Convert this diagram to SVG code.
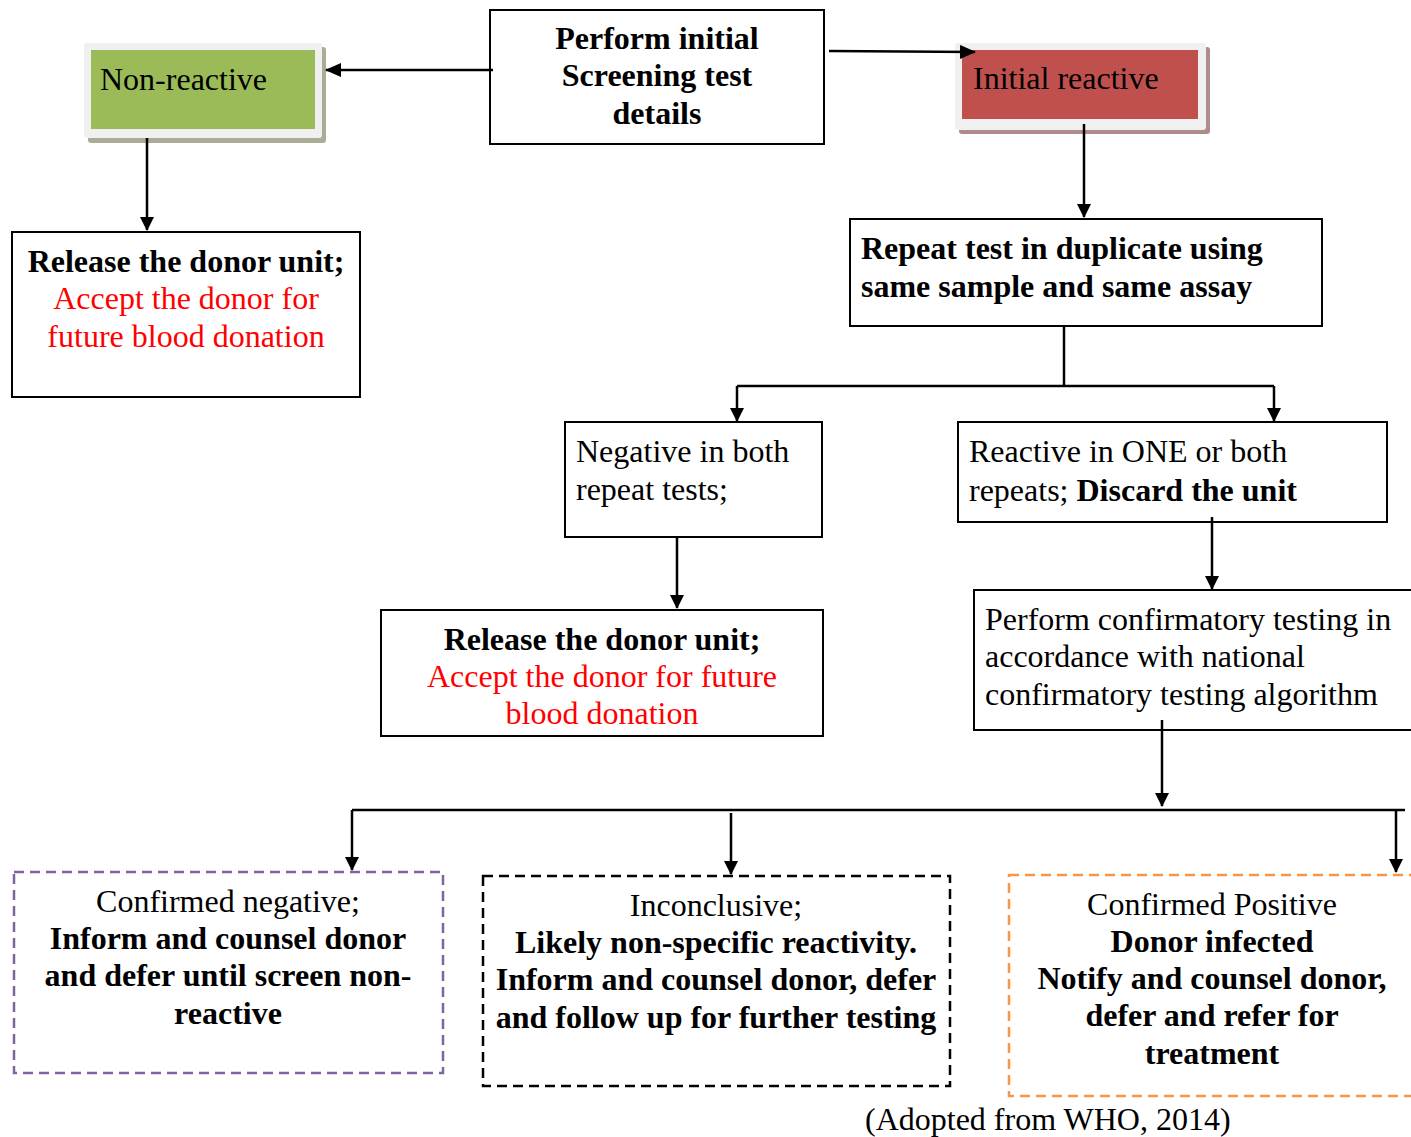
<svg xmlns="http://www.w3.org/2000/svg" width="1411" height="1137" viewBox="0 0 1411 1137">
<style>
text{font-family:"Liberation Serif","Times New Roman",serif;font-size:32px;fill:#000}
.b{font-weight:bold}
.r{fill:#ff0000}
.c{text-anchor:middle}
.box{fill:#fff;stroke:#000;stroke-width:2}
.ln{stroke:#000;stroke-width:2.5;fill:none}
.ar{stroke:#000;stroke-width:2.5;fill:none;marker-end:url(#ah)}
</style>
<defs>
<marker id="ah" markerWidth="14" markerHeight="14" refX="13" refY="7" orient="auto" markerUnits="userSpaceOnUse" viewBox="0 0 14 14">
<path d="M0,0 L14,7 L0,14 z" fill="#000"/>
</marker>
<marker id="ahw" markerWidth="16" markerHeight="14" refX="15" refY="7" orient="auto" markerUnits="userSpaceOnUse" viewBox="0 0 16 14">
<path d="M0,0 L16,7 L0,14 z" fill="#000"/>
</marker>
</defs>
<rect width="1411" height="1137" fill="#fff"/>
<g id="top">
<rect class="box" x="490" y="10" width="334" height="134"/>
<text class="b c" x="657" y="49">Perform initial</text>
<text class="b c" x="657" y="86">Screening test</text>
<text class="b c" x="657" y="124">details</text>
</g>
<g id="nonreactive">
<rect x="88" y="47" width="238" height="96" rx="3" fill="#a9ad97"/>
<rect x="84" y="43" width="238" height="95" rx="3" fill="#f0f0f0"/>
<rect x="91" y="50" width="224" height="79" fill="#9bbb59"/>
<text x="100" y="90">Non-reactive</text>
</g>
<g id="initialreactive">
<rect x="959" y="47" width="251" height="87" rx="3" fill="#b08c89"/>
<rect x="955" y="43" width="251" height="87" rx="3" fill="#f0f0f0"/>
<rect x="962" y="50" width="236" height="69" fill="#c0504d"/>
<text x="973" y="89">Initial reactive</text>
</g>
<g id="release1">
<rect class="box" x="12" y="232" width="348" height="165"/>
<text class="b c" x="186" y="272">Release the donor unit;</text>
<text class="r c" x="186" y="309">Accept the donor for</text>
<text class="r c" x="186" y="347">future blood donation</text>
</g>
<g id="repeat">
<rect class="box" x="850" y="219" width="472" height="107"/>
<text class="b" x="861" y="259">Repeat test in duplicate using</text>
<text class="b" x="861" y="297">same sample and same assay</text>
</g>
<g id="negative">
<rect class="box" x="565" y="422" width="257" height="115"/>
<text x="576" y="462">Negative in both</text>
<text x="576" y="500">repeat tests;</text>
</g>
<g id="reactive">
<rect class="box" x="958" y="422" width="429" height="100"/>
<text x="969" y="462">Reactive in ONE or both</text>
<text x="969" y="501">repeats; <tspan class="b">Discard the unit</tspan></text>
</g>
<g id="release2">
<rect class="box" x="381" y="610" width="442" height="126"/>
<text class="b c" x="602" y="650">Release the donor unit;</text>
<text class="r c" x="602" y="687">Accept the donor for future</text>
<text class="r c" x="602" y="724">blood donation</text>
</g>
<g id="confirmatory">
<rect class="box" x="974" y="590" width="450" height="140"/>
<text x="985" y="630">Perform confirmatory testing in</text>
<text x="985" y="667">accordance with national</text>
<text x="985" y="705">confirmatory testing algorithm</text>
</g>
<g id="confneg">
<rect x="14" y="872" width="429" height="201" fill="#fff" stroke="#8064a2" stroke-width="2.5" stroke-dasharray="10,6"/>
<text class="c" x="228" y="912">Confirmed negative;</text>
<text class="b c" x="228" y="949">Inform and counsel donor</text>
<text class="b c" x="228" y="986">and defer until screen non-</text>
<text class="b c" x="228" y="1024">reactive</text>
</g>
<g id="inconclusive">
<rect x="483" y="876" width="467" height="210" fill="#fff" stroke="#000" stroke-width="2.5" stroke-dasharray="10,6"/>
<text class="c" x="716" y="916">Inconclusive;</text>
<text class="b c" x="716" y="953">Likely non-specific reactivity.</text>
<text class="b c" x="716" y="990">Inform and counsel donor, defer</text>
<text class="b c" x="716" y="1028">and follow up for further testing</text>
</g>
<g id="confpos">
<rect x="1009" y="875" width="420" height="221" fill="#fff" stroke="#f79646" stroke-width="2.5" stroke-dasharray="10,6"/>
<text class="c" x="1212" y="915">Confirmed Positive</text>
<text class="b c" x="1212" y="952">Donor infected</text>
<text class="b c" x="1212" y="989">Notify and counsel donor,</text>
<text class="b c" x="1212" y="1026">defer and refer for</text>
<text class="b c" x="1212" y="1064">treatment</text>
</g>
<text x="865" y="1130">(Adopted from WHO, 2014)</text>
<g id="connectors">
<path class="ln" d="M493,70 L326,70" style="marker-end:url(#ahw)"/>
<path class="ln" d="M829,51 L975,52" style="marker-end:url(#ahw)"/>
<path class="ar" d="M147,138 L147,230"/>
<path class="ar" d="M1084,124 L1084,217"/>
<path class="ln" d="M1064,326 L1064,386 M737,386 L1274,386"/>
<path class="ar" d="M737,386 L737,421"/>
<path class="ar" d="M1274,386 L1274,421"/>
<path class="ar" d="M677,537 L677,608"/>
<path class="ar" d="M1212,517 L1212,589"/>
<path class="ar" d="M1162,720 L1162,806"/>
<path class="ln" d="M352,810 L1405,810"/>
<path class="ar" d="M352,810 L352,870"/>
<path class="ar" d="M731,813 L731,874"/>
<path class="ar" d="M1396,810 L1396,872"/>
</g>
</svg>
